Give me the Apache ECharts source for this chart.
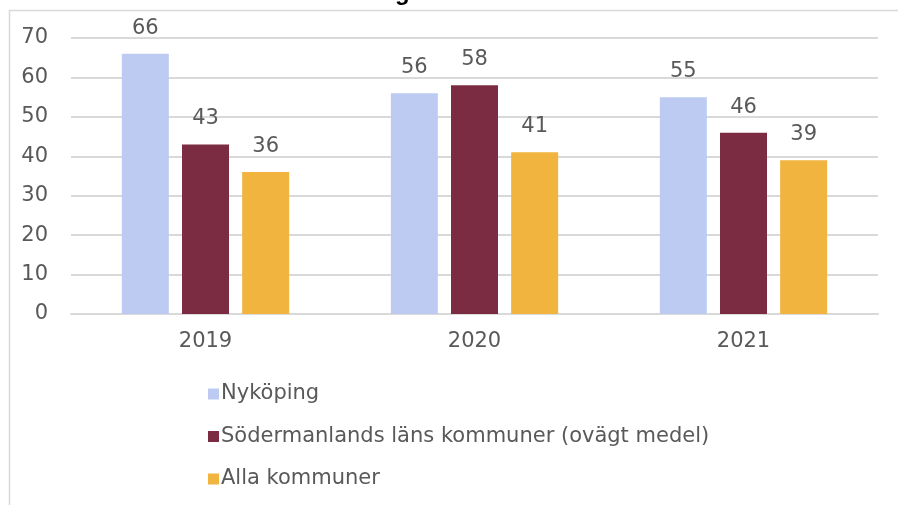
<!DOCTYPE html>
<html>
<head>
<meta charset="utf-8">
<script src="https://cdn.jsdelivr.net/npm/echarts@6/dist/echarts.min.js"></script>
<style>
  html, body { margin: 0; padding: 0; background: #fff; }
  #chart { width: 898px; height: 505px; }
</style>
</head>
<body>
<div id="chart"></div>
<script>
// kategorier och värden
var years = ['2019', '2020', '2021'];
var nykoping = [66, 56, 55];
var sodermanland = [43, 58, 46];
var allaKommuner = [36, 41, 39];
var seriesNames = ['Nyköping', 'Södermanlands läns kommuner (ovägt medel)', 'Alla kommuner'];
var yTicks = [0, 10, 20, 30, 40, 50, 60, 70];

var colors = ['#bdcbf3', '#7b2c43', '#f1b43e'];
var font = 'DejaVu Sans, Arial, sans-serif';

var chart = echarts.init(document.getElementById('chart'));

function makeSeries(name, data, color) {
  return {
    name: name,
    type: 'bar',
    data: data,
    barWidth: 47,
    barGap: '28%',
    itemStyle: { color: color },
    label: {
      show: true,
      position: 'top',
      distance: 15,
      color: '#595959',
      fontSize: 21,
      fontFamily: font
    }
  };
}

var option = {
  animation: false,
  backgroundColor: '#fff',
  graphic: [
    {
      // ramen runt diagrammet
      type: 'rect',
      shape: { x: 9.5, y: 10.5, width: 1000, height: 600 },
      style: { fill: 'none', stroke: '#d9d9d9', lineWidth: 1.5 },
      silent: true
    },
    {
      // titeln är avklippt, bara nedre delen syns
      type: 'text',
      left: 395,
      top: -19,
      style: {
        text: 'g',
        font: 'bold 24px Liberation Sans, Arial, sans-serif',
        fill: '#000'
      }
    }
  ],
  grid: {
    left: 71,
    right: 20,
    top: 38,
    bottom: 191
  },
  legend: {
    orient: 'vertical',
    left: 203,
    top: 378,
    itemWidth: 11,
    itemHeight: 11,
    itemGap: 20.5,
    icon: 'rect',
    textStyle: {
      color: '#595959',
      fontSize: 21,
      fontFamily: font,
      padding: [0, 0, 0, -3],
      lineHeight: 22
    },
    data: seriesNames
  },
  xAxis: {
    type: 'category',
    data: years,
    axisLine: { lineStyle: { color: '#d9d9d9', width: 2 } },
    axisTick: { show: false },
    axisLabel: {
      color: '#595959',
      fontSize: 21,
      fontFamily: font,
      margin: 17
    }
  },
  yAxis: {
    type: 'value',
    min: 0,
    max: 70,
    interval: 10,
    axisLine: { show: false },
    axisTick: { show: false },
    splitLine: { lineStyle: { color: '#d9d9d9', width: 2 } },
    axisLabel: {
      color: '#595959',
      fontSize: 21,
      fontFamily: font,
      margin: 23,
      formatter: function (v) {
        return yTicks.indexOf(v) >= 0 ? String(v) : '';
      }
    }
  },
  series: [
    makeSeries(seriesNames[0], nykoping, colors[0]),
    makeSeries(seriesNames[1], sodermanland, colors[1]),
    makeSeries(seriesNames[2], allaKommuner, colors[2])
  ]
};

chart.setOption(option);
</script>
</body>
</html>
